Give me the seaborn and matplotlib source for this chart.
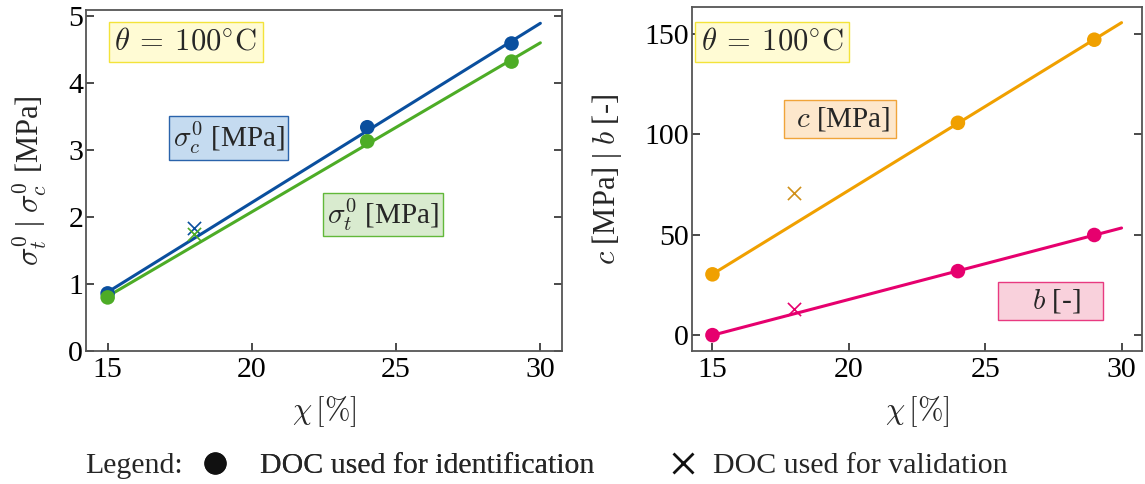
import numpy as np
import pandas as pd
import matplotlib
matplotlib.use("Agg")
import matplotlib.pyplot as plt
from matplotlib.lines import Line2D
import seaborn as sns

# Degree of cure chi [%] at theta = 100 °C
chi_id = [15, 24, 29]          # DOC used for identification
chi_val = [18]                  # DOC used for validation
chi_fit = [15, 30]              # span of the linear fits

# Left panel: initial yield stresses [MPa]
sigma_c_id = [0.86, 3.34, 4.59]
sigma_c_val = [1.84]
sigma_t_id = [0.80, 3.13, 4.32]
sigma_t_val = [1.75]

# Right panel: c [MPa] and b [-]
c_id = [30.3, 105.8, 147.2]
c_val = [71.0]
b_id = [0.0, 31.9, 49.9]
b_val = [12.8]

col_c = "#0a4f9e"
col_t = "#4dac26"
col_cc = "#f0a000"
col_b = "#e6006e"

sns.set_theme(style="ticks")
plt.rcParams.update({
    "font.family": ["Liberation Serif", "DejaVu Serif"],
    "mathtext.fontset": "cm",
    "axes.edgecolor": "#555555",
    "axes.linewidth": 1.3,
    "xtick.direction": "in",
    "ytick.direction": "in",
    "xtick.color": "#333333",
    "ytick.color": "#333333",
    "xtick.labelcolor": "black",
    "ytick.labelcolor": "black",
    "xtick.major.size": 6,
    "ytick.major.size": 6,
    "xtick.labelsize": 21.5,
    "ytick.labelsize": 21.5,
    "ytick.right": True,
})

fig = plt.figure(figsize=(11.45, 4.84), dpi=100)
ax1 = fig.add_axes([86 / 1145, 1 - 351 / 484, 476 / 1145, 341 / 484])
ax2 = fig.add_axes([692 / 1145, 1 - 351 / 484, 450 / 1145, 344 / 484])


def fit_line(x, y):
    k, d = np.polyfit(x, y, 1)
    xs = np.array(chi_fit, dtype=float)
    return pd.DataFrame({"chi": xs, "val": k * xs + d})


def draw_series(ax, y_id, y_val, color, val_color=None):
    sns.lineplot(data=fit_line(chi_id, y_id), x="chi", y="val", ax=ax,
                 color=color, lw=2.2, zorder=2)
    sns.scatterplot(x=chi_id, y=y_id, ax=ax, color=color, s=110,
                    edgecolor="none", zorder=3)
    sns.scatterplot(x=chi_val, y=y_val, ax=ax, color=val_color or color,
                    marker="x", s=90, linewidth=1.2, zorder=3)


draw_series(ax1, sigma_c_id, sigma_c_val, col_c)
draw_series(ax1, sigma_t_id, sigma_t_val, col_t)
draw_series(ax2, c_id, c_val, col_cc, val_color="#d0901a")
draw_series(ax2, b_id, b_val, col_b)

ax1.set_xlim(14.25, 30.75)
ax1.set_ylim(0, 5.09)
ax1.set_yticks([0, 1, 2, 3, 4, 5])
ax2.set_xlim(14.25, 30.75)
ax2.set_ylim(-7.9, 163.5)
ax2.set_yticks([0, 50, 100, 150])
for ax in (ax1, ax2):
    ax.set_xticks([15, 20, 25, 30])
    ax.tick_params(axis="x", which="major", pad=4)
    ax.tick_params(axis="y", which="major", pad=2)
    ax.set_xlabel(r"$\chi\,[\%]$", fontsize=22, labelpad=8)

ax1.set_ylabel(r"$\sigma_t^0$ | $\sigma_c^0$ [MPa]", fontsize=22, labelpad=14)
ax2.set_ylabel(r"$c$ [MPa] | $b$ [-]", fontsize=22, labelpad=15)


def boxed(ax, x, y, s, face, edge, size=21, pad=0.18):
    ax.text(x, y, s, transform=ax.transAxes, ha="center", va="center",
            fontsize=size, zorder=5,
            bbox=dict(boxstyle=f"square,pad={pad}", facecolor=face,
                      edgecolor=edge, linewidth=1.0))


theta_txt = r"$\theta\:=\:100^{\circ}\mathrm{C}$"
boxed(ax1, 0.21, 0.906, theta_txt, "#fffbd4", "#f3e33a", 22)
boxed(ax1, 0.30, 0.625, r"$\sigma_c^0$ [MPa]", "#c5dbf0", "#2a63ab", pad=0.12)
boxed(ax1, 0.624, 0.40, r"$\sigma_t^0$ [MPa]", "#d9ebcf", "#62b83a", pad=0.12)
boxed(ax2, 0.178, 0.898, theta_txt, "#fffbd4", "#f3e33a", 22)
boxed(ax2, 0.329, 0.674, r" $c$ [MPa]", "#fde7cc", "#f0a43a")
boxed(ax2, 0.796, 0.145, r"    $b$ [-]   ", "#f9d1dc", "#e83a80")

# Marker legend below the panels
leg_y = 1 - 466 / 484
fig.text(85 / 1145, leg_y, "Legend:", fontsize=21.5, va="center", ha="left")
h_id = Line2D([], [], ls="none", marker="o", color="#111111", markersize=15)
h_val = Line2D([], [], ls="none", marker="x", color="#111111", markersize=15,
               markeredgewidth=2.0)
leg1 = fig.legend([h_id], ["DOC used for identification"],
                  loc="center left", bbox_to_anchor=(173 / 1145, leg_y),
                  frameon=False, fontsize=21.5, handletextpad=1.0,
                  handlelength=1.0)
fig.add_artist(leg1)
fig.legend([h_val], ["DOC used for validation"],
           loc="center left", bbox_to_anchor=(641 / 1145, leg_y),
           frameon=False, fontsize=21.5, handletextpad=0.5,
           handlelength=1.0)

fig.savefig("out.png", dpi=100)
